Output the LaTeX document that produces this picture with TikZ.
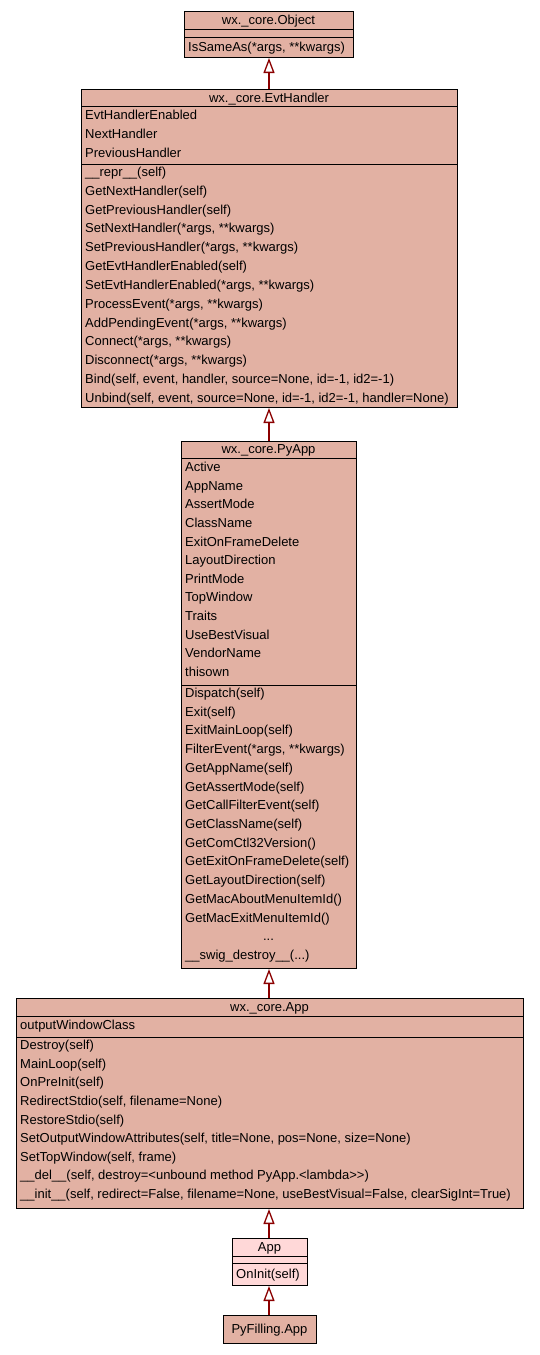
\documentclass[tikz,border=0pt]{standalone}
\usepackage{fontspec}
\setmainfont{Liberation Sans}
\usetikzlibrary{arrows.meta}
\definecolor{clsfill}{RGB}{226,177,163}
\definecolor{curfill}{RGB}{255,216,216}
\definecolor{inhcol}{RGB}{139,0,0}
\tikzset{
  x=1pt, y=-1pt,
  clsbox/.style={draw=black, line width=1pt, fill=clsfill, inner sep=0pt, anchor=north west},
  curbox/.style={clsbox, fill=curfill},
  sepline/.style={draw=black, line width=1pt},
  rowtext/.style={anchor=base west, inner sep=0pt, font=\fontsize{13}{15}\selectfont},
  titletext/.style={anchor=base, inner sep=0pt, font=\fontsize{13}{15}\selectfont},
  inh/.style={draw=inhcol, line width=2.4pt,
    -{Triangle[open, length=15pt, width=11pt, line width=1.3pt]}},
}
\begin{document}
\begin{tikzpicture}
\useasboundingbox (0,0) rectangle (539,1355);
\fill[white] (0,0) rectangle (539,1355);

% wx._core.Object
\node[clsbox, minimum width=169pt, minimum height=46pt] (obj) at (184,11) {};
\draw[sepline] (obj.west |- 0,29) -- (obj.east |- 0,29);
\draw[sepline] (obj.west |- 0,37) -- (obj.east |- 0,37);
\node[titletext] (objt) at (268.5,24.5) {wx.\_core.Object};
\node[rowtext] (objm0) at (188,51.5) {IsSameAs(*args, **kwargs)};

% wx._core.EvtHandler
\node[clsbox, minimum width=376pt, minimum height=318pt] (evh) at (81,89) {};
\draw[sepline] (evh.west |- 0,106) -- (evh.east |- 0,106);
\draw[sepline] (evh.west |- 0,164) -- (evh.east |- 0,164);
\node[titletext] (evht) at (269,102) {wx.\_core.EvtHandler};
\foreach \t [count=\i from 0] in {EvtHandlerEnabled, NextHandler, PreviousHandler}
  \node[rowtext] (evha\i) at (85,{119.5+19*\i}) {\t};
\foreach \t [count=\i from 0] in {
  {\_\_repr\_\_(self)},
  {GetNextHandler(self)},
  {GetPreviousHandler(self)},
  {SetNextHandler(*args, **kwargs)},
  {SetPreviousHandler(*args, **kwargs)},
  {GetEvtHandlerEnabled(self)},
  {SetEvtHandlerEnabled(*args, **kwargs)},
  {ProcessEvent(*args, **kwargs)},
  {AddPendingEvent(*args, **kwargs)},
  {Connect(*args, **kwargs)},
  {Disconnect(*args, **kwargs)},
  {Bind(self, event, handler, source=None, id=-1, id2=-1)},
  {Unbind(self, event, source=None, id=-1, id2=-1, handler=None)}}
  \node[rowtext] (evhm\i) at (85,{176.5+18.83*\i}) {\t};

% wx._core.PyApp
\node[clsbox, minimum width=175pt, minimum height=527pt] (pyapp) at (181,441) {};
\draw[sepline] (pyapp.west |- 0,458) -- (pyapp.east |- 0,458);
\draw[sepline] (pyapp.west |- 0,685) -- (pyapp.east |- 0,685);
\node[titletext] (pyappt) at (268.5,453.5) {wx.\_core.PyApp};
\foreach \t [count=\i from 0] in {Active, AppName, AssertMode, ClassName,
  ExitOnFrameDelete, LayoutDirection, PrintMode, TopWindow, Traits,
  UseBestVisual, VendorName, thisown}
  \node[rowtext] (pyappa\i) at (185,{471.5+18.64*\i}) {\t};
\foreach \t [count=\i from 0] in {
  {Dispatch(self)},
  {Exit(self)},
  {ExitMainLoop(self)},
  {FilterEvent(*args, **kwargs)},
  {GetAppName(self)},
  {GetAssertMode(self)},
  {GetCallFilterEvent(self)},
  {GetClassName(self)},
  {GetComCtl32Version()},
  {GetExitOnFrameDelete(self)},
  {GetLayoutDirection(self)},
  {GetMacAboutMenuItemId()},
  {GetMacExitMenuItemId()}}
  \node[rowtext] (pyappm\i) at (185,{697.5+18.71*\i}) {\t};
\node[titletext] (pyappdots) at (268.5,{697.5+18.71*13}) {...};
\node[rowtext] (pyappm14) at (185,{697.5+18.71*14}) {\_\_swig\_destroy\_\_(...)};

% wx._core.App
\node[clsbox, minimum width=507pt, minimum height=210pt] (wxapp) at (16,998) {};
\draw[sepline] (wxapp.west |- 0,1016) -- (wxapp.east |- 0,1016);
\draw[sepline] (wxapp.west |- 0,1037) -- (wxapp.east |- 0,1037);
\node[titletext] (wxappt) at (269.5,1011) {wx.\_core.App};
\node[rowtext] (wxappa0) at (20,1029.5) {outputWindowClass};
\foreach \t [count=\i from 0] in {
  {Destroy(self)},
  {MainLoop(self)},
  {OnPreInit(self)},
  {RedirectStdio(self, filename=None)},
  {RestoreStdio(self)},
  {SetOutputWindowAttributes(self, title=None, pos=None, size=None)},
  {SetTopWindow(self, frame)},
  {\_\_del\_\_(self, destroy=<unbound method PyApp.<lambda>{}>)},
  {\_\_init\_\_(self, redirect=False, filename=None, useBestVisual=False, clearSigInt=True)}}
  \node[rowtext] (wxappm\i) at (20,{1049.5+18.63*\i}) {\t};

% App
\node[curbox, minimum width=75pt, minimum height=47pt] (app) at (232,1238) {};
\draw[sepline] (app.west |- 0,1256) -- (app.east |- 0,1256);
\draw[sepline] (app.west |- 0,1263) -- (app.east |- 0,1263);
\node[titletext] (appt) at (269.5,1251.5) {App};
\node[rowtext] (appm0) at (236,1278.5) {OnInit(self)};

% PyFilling.App
\node[clsbox, minimum width=93pt, minimum height=28pt] (pfapp) at (223,1315) {};
\node[titletext] (pfappt) at (269.5,1333.5) {PyFilling.App};

% inheritance arrows
\draw[inh] (evh.north -| pyapp.north) -- (obj.south -| pyapp.north);
\draw[inh] (pyapp.north) -- (evh.south -| pyapp.north);
\draw[inh] (wxapp.north -| pyapp.south) -- (pyapp.south);
\draw[inh] (app.north -| pyapp.south) -- (wxapp.south -| pyapp.south);
\draw[inh] (pfapp.north -| pyapp.south) -- (app.south -| pyapp.south);
\end{tikzpicture}
\end{document}
